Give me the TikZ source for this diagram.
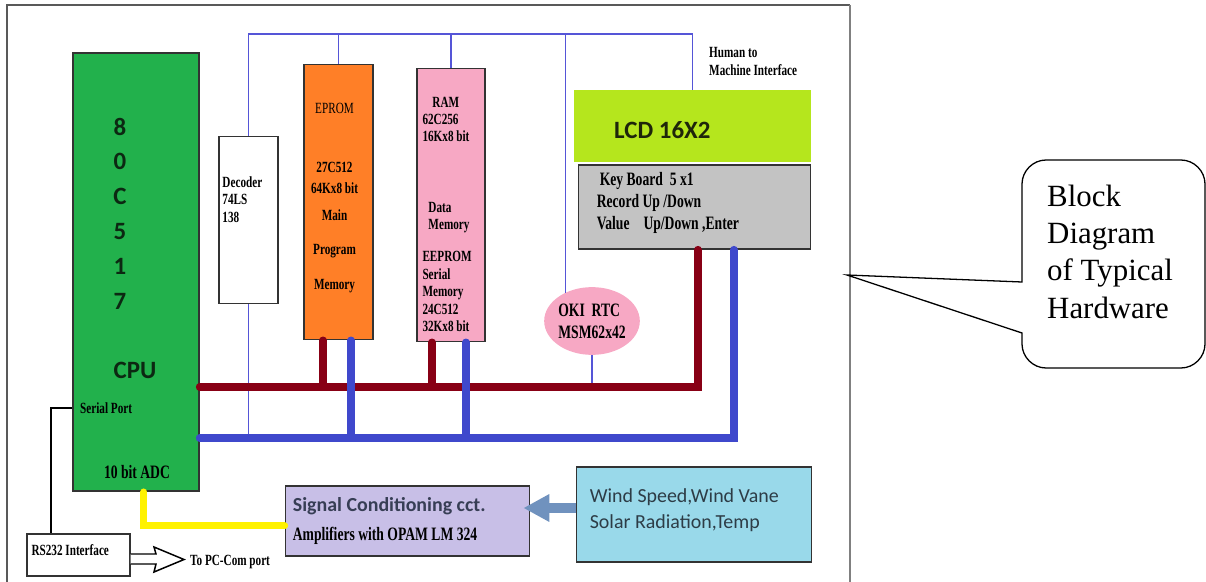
\documentclass[tikz,border=0pt]{standalone}
\usepackage{fontspec}
\usepackage{tikz}
\setmainfont{Liberation Serif}
\newfontfamily\tnr{Liberation Serif}
\newfontfamily\cond[FakeStretch=0.72]{Liberation Serif}
\newfontfamily\calib{Carlito}
\usetikzlibrary{shapes.geometric, arrows.meta}
\definecolor{cpugreen}{RGB}{34,177,76}
\definecolor{cpudark}{RGB}{12,40,18}
\definecolor{romorange}{RGB}{255,127,39}
\definecolor{rampink}{RGB}{247,168,196}
\definecolor{lcdlime}{RGB}{181,230,29}
\definecolor{lcddark}{RGB}{30,38,10}
\definecolor{keygray}{RGB}{195,195,195}
\definecolor{condlav}{RGB}{200,191,231}
\definecolor{senscyan}{RGB}{153,217,234}

\begin{document}
\begin{tikzpicture}[x=1bp, y=-1bp,
  box/.style={draw=black!80, line width=1.6, inner sep=0},
  lbl/.style={font=\cond\bfseries\fontsize{15.6}{17.5}\selectfont, inner sep=0, align=left},
  lblbig/.style={font=\cond\bfseries\fontsize{19}{22}\selectfont, inner sep=0, align=left},
  sans/.style={font=\calib\bfseries\fontsize{25}{30}\selectfont, inner sep=0},
  ctl/.style={ctlblue, line width=1.6},
  abus/.style={addrred, line width=7.5, line cap=round},
  dbus/.style={databus, line width=7.5, line cap=round}]
  \definecolor{addrred}{RGB}{136,0,21}
  \definecolor{databus}{RGB}{63,72,204}
  \definecolor{ctlblue}{RGB}{85,85,215}
  \definecolor{adcyellow}{RGB}{255,242,0}
  \definecolor{linkblue}{RGB}{112,146,190}
  \definecolor{sigtext}{RGB}{55,62,85}
  \definecolor{windtext}{RGB}{45,60,70}
  \useasboundingbox (0,0) rectangle (1206,582);
  % Frame
  \draw[black!65, line width=2] (7,582) -- (7,5) -- (850,5);
  \draw[black!50, line width=1.2] (850,5) -- (850,582);
  % CPU
  \node[box, fill=cpugreen, minimum width=126, minimum height=440] (cpu) at (136,272) {};
  \foreach \ch [count=\i from 0] in {8,0,C,5,1,7}
    \node[sans, text=cpudark] (digit\i) at (120,{127+34.8*\i}) {\ch};
  \node[sans, text=cpudark] (cputxt) at (135,370) {CPU};
  \node[lbl, anchor=west] (serial) at (80,408) {Serial Port};
  \node[lblbig] (adc) at (137,472) {10 bit ADC};
  % Decoder
  \node[box, fill=white, minimum width=59, minimum height=168] (dec) at (248.5,220) {};
  \node[lbl, anchor=north west] (dectxt) at ([xshift=4,yshift=-41]dec.north west) {Decoder\\74LS\\138};
  % EPROM
  \node[box, fill=romorange, minimum width=69, minimum height=276] (eprom) at (338.5,202) {};
  \node[lbl, anchor=north, align=center] (epromtxt) at ([xshift=-4,yshift=-39]eprom.north)
    {{\mdseries EPROM}\\[42pt]27C512\\[4pt]64Kx8 bit\\[9pt]Main\\[17pt]Program\\[18pt]Memory};
  % RAM
  \node[box, fill=rampink, minimum width=68, minimum height=274] (ram) at (451,205) {};
  \node[lbl, anchor=north west] (ramtxt) at ([xshift=6,yshift=-29]ram.north west)
    {\hspace*{10pt}RAM\\62C256\\16Kx8 bit\\[53pt]\hspace*{6pt}Data\\\hspace*{6pt}Memory\\[15pt]EEPROM\\Serial\\Memory\\24C512\\32Kx8 bit};
  % RTC
  \node[ellipse, fill=rampink, minimum width=96, minimum height=68, lblbig] (rtc) at (592,321) {OKI\ \ RTC\\MSM62x42};
  % LCD and keyboard
  \node[fill=lcdlime, minimum width=237, minimum height=72] (lcd) at (692.5,126) {};
  \node[sans, text=lcddark, anchor=west] (lcdtxt) at (614,130) {LCD 16X2};
  \node[box, fill=keygray, minimum width=233, minimum height=84] (kbd) at (694.5,207) {};
  \node[lblbig, anchor=north west] (kbdtxt) at ([xshift=19,yshift=-8]kbd.north west)
    {\hspace*{3pt}Key Board\ \ 5 x1\\Record Up /Down\\Value\hspace{14pt}Up/Down ,Enter};
  \node[lbl, anchor=west] (hmi) at (709,61.5) {Human to\\Machine Interface};
  % Signal conditioning and sensors
  \node[box, fill=condlav, minimum width=245, minimum height=70] (sig) at (407.5,521) {};
  \node[lblbig, font=\cond\bfseries\fontsize{19}{29}\selectfont, anchor=west] (sigtxt) at ([xshift=8]sig.west)
    {{\calib\fontsize{20}{29}\selectfont\color{sigtext}Signal Conditioning cct.}\\Amplifiers with OPAM LM 324};
  \node[box, fill=senscyan, minimum width=236, minimum height=95] (wind) at (694,514.5) {};
  \node[anchor=north west, font=\calib\fontsize{20}{26}\selectfont, text=windtext, inner sep=0, align=left] (windtxt)
    at ([xshift=14,yshift=-22]wind.north west) {Wind Speed,Wind Vane\\Solar Radiation,Temp};
  % RS232
  \node[box, fill=white, minimum width=103, minimum height=42] (rs) at (78.5,555) {};
  \node[lbl, anchor=west] (rstxt) at ([xshift=5,yshift=5]rs.west) {RS232 Interface};
  \node[lbl, anchor=west] (pc) at (190,562) {To PC-Com port};
  % Callout
  \node[font=\tnr\fontsize{31}{37.3}\selectfont, anchor=north west, inner sep=0, align=left] (note) at (1047,185)
    {Block\\Diagram\\of Typical\\Hardware};
  \coordinate (tip) at (847,275);
  \draw[line width=1.3] (1022,282) -- (1022,184) .. controls (1022,171) and (1033,160) .. (1046,160)
    -- (1181,160) .. controls (1194,160) and (1205,171) .. (1205,184)
    -- (1205,344) .. controls (1205,357) and (1194,368) .. (1181,368)
    -- (1046,368) .. controls (1033,368) and (1022,357) .. (1022,344)
    -- (1022,333) -- (tip) -- cycle;
  % Control lines
  \coordinate (ctltop) at (0,34);
  \coordinate (redbus) at (0,387);
  \coordinate (bluebus) at (0,438);
  \draw[ctl] (dec.north) |- (lcd.north |- ctltop) -- (lcd.north);
  \draw[ctl] (eprom.north) -- (eprom.north |- ctltop);
  \draw[ctl] (ram.north) -- (ram.north |- ctltop);
  \draw[ctl] (rtc.133) -- (rtc.133 |- ctltop);
  \draw[ctl] (rtc.south) -- (rtc.south |- redbus);
  \draw[ctl] (dec.south) -- (dec.south |- bluebus);
  % Address bus
  \draw[abus] (cpu.east |- redbus) -| ([xshift=3.5]kbd.south);
  \draw[abus] ([xshift=-15.5]eprom.south) -- ([xshift=-15.5]eprom.south |- redbus);
  \draw[abus] ([xshift=-19]ram.south) -- ([xshift=-19]ram.south |- redbus);
  % Data bus
  \draw[dbus] (cpu.east |- bluebus) -| ([xshift=39.5]kbd.south);
  \draw[dbus] ([xshift=12.5]eprom.south) -- ([xshift=12.5]eprom.south |- bluebus);
  \draw[dbus] ([xshift=15]ram.south) -- ([xshift=15]ram.south |- bluebus);
  % ADC input
  \draw[adcyellow, line width=7, line cap=round] ([xshift=8]cpu.south) |- ([yshift=-5]sig.west);
  \draw[linkblue, line width=10, -{Triangle[length=26pt, width=26pt]}, shorten >=-7pt] (wind.west |- 0,508) -- (sig.east |- 0,508);
  % Serial link
  \draw[line width=1.6] (cpu.west |- 0,408) -| ([xshift=-27.5]rs.north);
  \draw[line width=1.5, fill=white] (rs.east |- 0,554) -- (156,554) -- (154,547) -- (184,559.5)
    -- (154,572) -- (156,564) -- (rs.east |- 0,564);
\end{tikzpicture}
\end{document}
